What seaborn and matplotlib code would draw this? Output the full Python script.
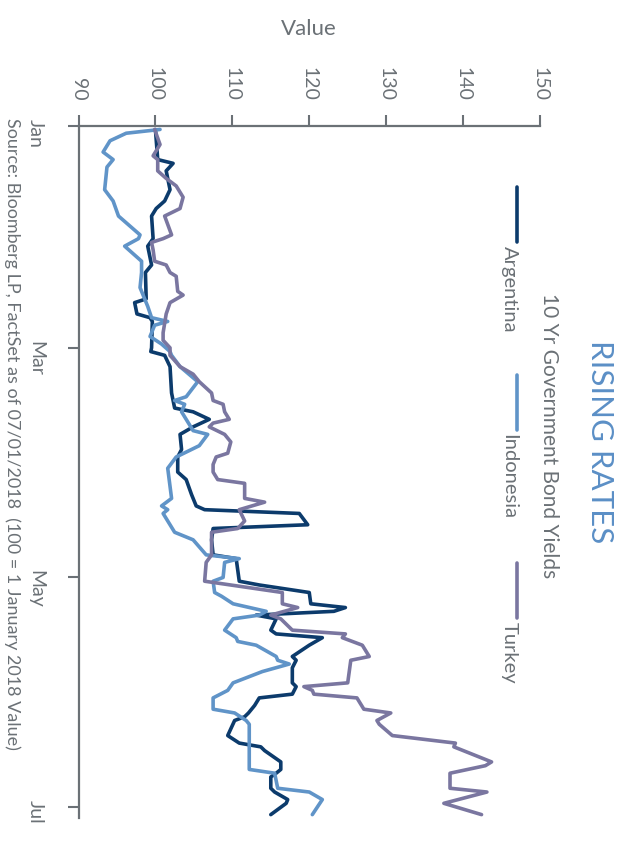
import matplotlib
matplotlib.use("Agg")
import matplotlib.pyplot as plt
from matplotlib.lines import Line2D
import pandas as pd
import seaborn as sns

# ---- data: index values (100 = 1 January 2018), x = days since 1 Jan 2018 ----
countries = ["Argentina", "Indonesia", "Turkey"]
colors = ["#0c3b6c", "#6094c8", "#7a76a0"]

days_argentina = [1, 9, 10, 12, 17, 20, 22, 24, 30, 32, 37, 39, 46, 47, 50, 51, 52, 59, 60, 61,
                  64, 71, 75, 76, 78, 80, 82, 86, 88, 92, 94, 98, 101, 102, 103, 106, 107, 110, 114, 115,
                  121, 122, 124, 127, 128, 129, 130, 131, 134, 135, 136, 138, 141, 142, 144, 148, 149, 151, 152, 154,
                  156, 157, 158, 162, 164, 165, 166, 169, 171, 172, 173, 176, 177, 179, 180, 183]
values_argentina = [100.0, 100.3, 102.3, 101.4, 101.9, 101.2, 100.1, 99.5, 99.7, 99.0,
                    99.5, 98.7, 98.8, 97.3, 97.6, 99.3, 99.6, 99.5, 99.4, 101.2,
                    101.9, 102.1, 102.5, 104.9, 107.0, 104.9, 103.2, 103.4, 102.9, 102.9,
                    104.0, 104.7, 105.3, 106.4, 118.7, 119.8, 107.5, 107.3, 107.5, 110.5,
                    110.9, 113.5, 120.0, 120.2, 124.7, 123.2, 113.1, 115.7, 115.0, 115.7,
                    121.7, 120.0, 117.8, 118.3, 117.8, 117.8, 118.3, 117.8, 113.5, 112.9,
                    112.1, 111.6, 110.3, 109.4, 110.9, 113.7, 114.2, 116.3, 116.3, 115.7,
                    115.0, 115.0, 115.5, 117.2, 117.0, 115.0]

days_indonesia = [1, 2, 4, 7, 9, 11, 17, 20, 24, 29, 30, 32, 36, 39, 43, 48, 51, 52, 53, 56,
                  58, 60, 61, 64, 68, 72, 73, 74, 76, 81, 82, 85, 88, 91, 99, 101, 102, 103, 108, 110,
                  114, 115, 116, 120, 121, 124, 125, 127, 129, 130, 131, 134, 136, 137, 138, 141, 142, 143, 145, 148,
                  150, 152, 155, 156, 158, 159, 171, 172, 176, 177, 179, 183]
values_indonesia = [100.6, 96.2, 94.1, 93.2, 94.5, 93.7, 93.4, 94.5, 95.2, 98.0,
                    97.8, 96.0, 98.2, 98.2, 98.0, 99.0, 99.5, 101.6, 99.9, 99.3,
                    100.8, 101.9, 102.1, 103.2, 105.5, 104.0, 102.5, 103.8, 103.4, 104.9,
                    106.8, 105.7, 102.7, 101.6, 102.1, 100.8, 101.6, 101.0, 102.5, 104.9,
                    106.6, 110.9, 109.0, 108.8, 107.5, 107.7, 108.6, 110.1, 114.4, 113.5,
                    110.1, 109.0, 110.5, 110.7, 113.1, 115.7, 115.9, 117.4, 113.9, 110.1,
                    109.4, 107.5, 107.5, 110.3, 111.8, 112.2, 112.2, 115.5, 115.9, 120.0,
                    121.7, 120.4]

days_turkey = [1, 5, 8, 9, 12, 14, 16, 19, 22, 24, 29, 30, 31, 33, 36, 37, 39, 40, 44, 45,
               47, 50, 55, 57, 59, 61, 64, 66, 68, 71, 73, 74, 76, 78, 79, 80, 82, 84, 87, 88,
               90, 92, 94, 95, 99, 100, 102, 105, 107, 108, 114, 116, 121, 124, 127, 128, 130, 131, 134, 135,
               136, 138, 141, 142, 148, 149, 150, 151, 152, 155, 156, 158, 159, 162, 164, 165, 169, 170, 172, 176,
               177, 180, 183]
values_turkey = [99.9, 100.6, 99.7, 100.3, 100.3, 101.4, 102.7, 103.6, 103.2, 101.2,
                 102.1, 101.0, 99.5, 99.7, 99.9, 101.4, 101.9, 102.7, 102.9, 103.6,
                 101.9, 101.4, 101.0, 101.0, 101.9, 101.9, 103.2, 104.9, 105.7, 107.3,
                 107.5, 108.8, 109.0, 109.6, 107.5, 107.0, 109.0, 109.8, 109.4, 107.9,
                 107.5, 107.5, 108.1, 111.6, 111.6, 114.2, 110.9, 111.6, 110.7, 107.3,
                 107.3, 106.6, 106.4, 116.5, 116.5, 118.5, 115.0, 116.3, 117.8, 124.7,
                 124.3, 126.9, 127.8, 125.4, 125.0, 119.3, 120.4, 120.6, 126.2, 127.1,
                 130.6, 128.8, 129.1, 130.8, 139.0, 138.8, 143.7, 142.9, 138.3, 138.3,
                 143.1, 137.5, 142.4]

value_ticks = [90, 100, 110, 120, 130, 140, 150]
month_ticks = [0, 59, 120, 181]
month_labels = ["Jan", "Mar", "May", "Jul"]

title = "RISING RATES"
legend_title = "10 Yr Government Bond Yields"
source = "Source: Bloomberg LP, FactSet as of 07/01/2018  (100 = 1 January 2018 Value)"

frames = []
for name, d, v in [("Argentina", days_argentina, values_argentina),
                   ("Indonesia", days_indonesia, values_indonesia),
                   ("Turkey", days_turkey, values_turkey)]:
    frames.append(pd.DataFrame({"country": name, "day": d, "value": v}))
df = pd.concat(frames, ignore_index=True)

# ---- styling ----
sns.set_theme(style="white")
plt.rcParams["font.family"] = ["Lato", "DejaVu Sans"]
gray = "#6b7176"
title_blue = "#5b8fc6"

W, H = 624, 850
fig = plt.figure(figsize=(W / 100, H / 100), dpi=100)
fig.patch.set_facecolor("white")

def fx(px):
    return px / W

def fy(py):
    return 1 - py / H

ax_left, ax_right, ax_top, ax_bottom = 78.5, 540, 125.7, 818
ax = fig.add_axes([fx(ax_left), fy(ax_bottom), fx(ax_right - ax_left), (ax_bottom - ax_top) / H])

# time runs down the page, values run left to right
sns.lineplot(data=df, x="value", y="day", hue="country", hue_order=countries,
             palette=colors, orient="y", sort=False, estimator=None,
             linewidth=2.6, legend=False, ax=ax)
for line in ax.get_lines():
    line.set_solid_joinstyle("round")
    line.set_solid_capstyle("round")

ax.set_xlim(90, 150)
ax.set_ylim(183.9, 0)

ax.xaxis.tick_top()
ax.set_xticks(value_ticks)
ax.set_xticklabels([str(t) for t in value_ticks])
ax.set_yticks(month_ticks)
ax.set_yticklabels(month_labels)
ax.tick_params(axis="x", which="major", direction="out", length=8, width=1.5, color=gray,
               labelcolor=gray, labelsize=14, labelrotation=-90, pad=10, top=True, bottom=False)
ax.tick_params(axis="y", which="major", direction="out", length=8, width=1.5, color=gray,
               labelcolor=gray, labelsize=14, labelrotation=-90, pad=17, left=True)

ax.xaxis.set_label_position("top")
ax.set_xlabel("Value", color=gray, fontsize=16, labelpad=23)
ax.set_ylabel("")

for side in ["right", "bottom"]:
    ax.spines[side].set_visible(False)
for side in ["left", "top"]:
    ax.spines[side].set_color(gray)
    ax.spines[side].set_linewidth(1.6)
ax.grid(False)

# ---- title, legend and source note (set sideways) ----
fig.text(fx(600), fy(442), title, rotation=-90, ha="center", va="center",
         fontsize=22.5, color=title_blue)
fig.text(fx(549), fy(436), legend_title, rotation=-90, ha="center", va="center",
         fontsize=15, color=gray)

legend_spans = [(187, 242), (375, 430), (563, 618)]
for name, col, (y0, y1) in zip(countries, colors, legend_spans):
    fig.add_artist(Line2D([fx(517), fx(517)], [fy(y0), fy(y1)], color=col,
                          linewidth=2.6, transform=fig.transFigure))
    fig.text(fx(509), fy(y1 + 4), name, rotation=-90, ha="center", va="top",
             fontsize=14.5, color=gray)

fig.text(fx(12), fy(118), source, rotation=-90, ha="center", va="top",
         fontsize=13, color=gray)

fig.savefig("out.png", dpi=100, facecolor="white")
